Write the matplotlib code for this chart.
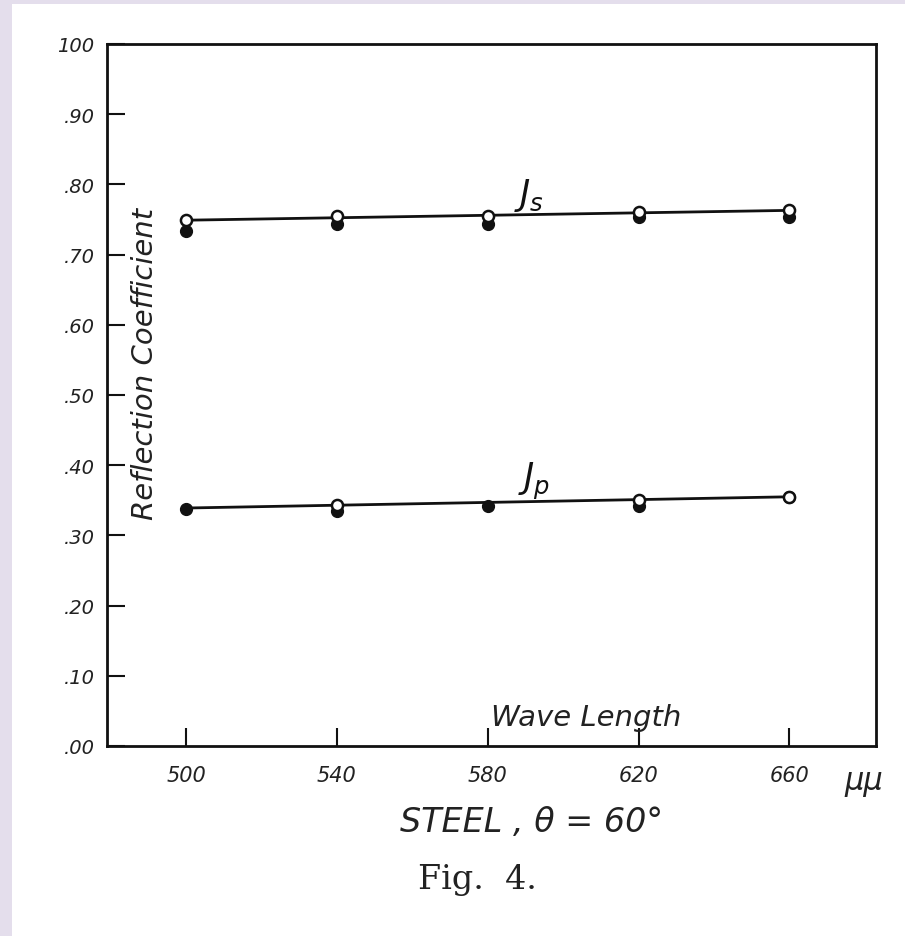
import matplotlib.pyplot as plt
import numpy as np
from matplotlib.patches import Rectangle

# wavelength (mμ) and reflection coefficients
wave = [500, 540, 580, 620, 660]
js_open = [0.749, 0.755, 0.755, 0.760, 0.764]
js_filled = [0.734, 0.744, 0.744, 0.754, 0.753]
jp_open = [np.nan, 0.344, np.nan, 0.350, 0.355]
jp_filled = [0.338, 0.335, 0.342, 0.342, 0.355]
line_wave = [500, 660]
js_line = [0.749, 0.763]
jp_line = [0.339, 0.355]

y_ticks = [0.0, 0.1, 0.2, 0.3, 0.4, 0.5, 0.6, 0.7, 0.8, 0.9, 1.0]
y_labels = ['.00', '.10', '.20', '.30', '.40', '.50', '.60', '.70', '.80', '.90', '100']

hand = {'family': 'DejaVu Sans', 'style': 'italic', 'color': '#222222'}

fig = plt.figure(figsize=(9.05, 9.37), dpi=100, facecolor='#e4deec')
fig.patches.append(Rectangle((12 / 905, 0), 1, 1 - 5 / 937, transform=fig.transFigure,
                             facecolor='white', edgecolor='none', zorder=-5))

ax = fig.add_axes([107 / 905, 1 - 747 / 937, 769 / 905, 702 / 937])
ax.set_facecolor('white')
ax.set_xlim(479, 683)
ax.set_ylim(0, 1.0)

for s in ['right', 'top', 'left', 'bottom']:
    ax.spines[s].set_linewidth(2)
    ax.spines[s].set_color('#111111')

ax.set_xticks(wave)
ax.set_xticklabels([str(w) for w in wave], fontdict=hand, fontsize=15)
ax.set_yticks(y_ticks)
ax.set_yticklabels(y_labels, fontdict=hand, fontsize=14)
ax.tick_params(direction='in', length=13, width=1.5, color='#111111')
ax.tick_params(axis='x', pad=14)
ax.tick_params(axis='y', pad=9)

# hand-drawn lines and measured points
ax.plot(line_wave, js_line, color='#111111', lw=2, zorder=2)
ax.plot(line_wave, jp_line, color='#111111', lw=2, zorder=2)
ax.plot(wave, js_filled, 'o', color='#111111', ms=8.5, zorder=3)
ax.plot(wave, jp_filled, 'o', color='#111111', ms=8.5, zorder=3)
ax.plot(wave, js_open, 'o', mfc='white', mec='#111111', mew=1.8, ms=8, zorder=4)
ax.plot(wave, jp_open, 'o', mfc='white', mec='#111111', mew=1.8, ms=8, zorder=4)

ax.text(587, 0.772, r'$J_s$', fontsize=25, color='#111111')
ax.text(588, 0.368, r'$J_p$', fontsize=25, color='#111111')
ax.text(489, 0.545, 'Reflection Coefficient', rotation=90, ha='center', va='center',
        fontsize=21, **hand)
ax.text(606, 0.022, 'Wave Length', ha='center', va='bottom', fontsize=21, **hand)
ax.text(674.5, -0.03, 'μμ', ha='left', va='top', fontsize=22, clip_on=False, **hand)

fig.text(532 / 905, 1 - 822 / 937, 'STEEL , θ = 60°', ha='center', va='center',
         fontsize=24, **hand)
fig.text(477 / 905, 1 - 880 / 937, 'Fig.  4.', ha='center', va='center',
         fontsize=24, family='DejaVu Serif', color='#222222')

plt.savefig('out.png', dpi=100, facecolor=fig.get_facecolor())
